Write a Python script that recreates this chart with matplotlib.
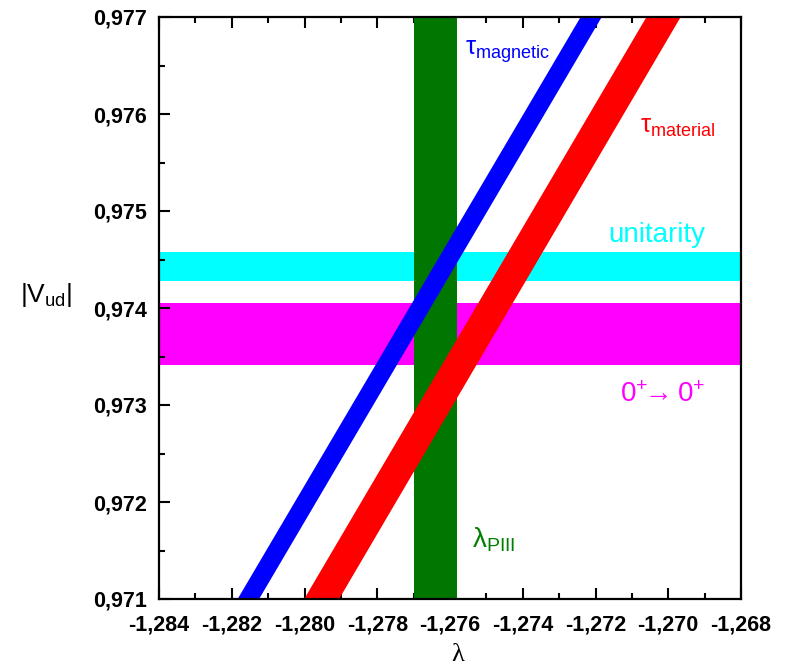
import numpy as np
import matplotlib
matplotlib.use('Agg')
import matplotlib.pyplot as plt
from matplotlib.ticker import MultipleLocator, FuncFormatter

plt.rcParams['font.family'] = ['Liberation Sans', 'DejaVu Sans']
plt.rcParams['mathtext.fontset'] = 'custom'
plt.rcParams['mathtext.rm'] = 'Liberation Sans'
plt.rcParams['mathtext.it'] = 'Liberation Sans:italic'
plt.rcParams['mathtext.bf'] = 'Liberation Sans:bold'

# band edges: lambda at |Vud| = 0.971 and 0.977
vud_ends = [0.971, 0.977]
mag_left = [-1.28186, -1.27243]
mag_right = [-1.28127, -1.27185]
mat_left = [-1.28003, -1.27062]
mat_right = [-1.27907, -1.26968]

# horizontal / vertical bands
unitarity = [0.97428, 0.97458]
superallowed = [0.97341, 0.97405]
lambda_perkeo = [-1.27700, -1.27582]

xlim = (-1.284, -1.268)
ylim = (0.971, 0.977)

fig = plt.figure(figsize=(7.88, 6.69), dpi=100)
ax = fig.add_axes([159/788, 70/669, 582/788, 582/669])

ax.axhspan(unitarity[0], unitarity[1], color='#00ffff', lw=0, zorder=1)
ax.axhspan(superallowed[0], superallowed[1], color='#ff00ff', lw=0, zorder=1)
ax.axvspan(lambda_perkeo[0], lambda_perkeo[1], color='#007700', lw=0, zorder=2)
ax.fill_betweenx(vud_ends, mag_left, mag_right, color='#0000ff', lw=0, zorder=3)
ax.fill_betweenx(vud_ends, mat_left, mat_right, color='#ff0000', lw=0, zorder=3)

ax.set_xlim(*xlim)
ax.set_ylim(*ylim)

ax.xaxis.set_major_locator(MultipleLocator(0.002))
ax.xaxis.set_minor_locator(MultipleLocator(0.001))
ax.yaxis.set_major_locator(MultipleLocator(0.001))
ax.yaxis.set_minor_locator(MultipleLocator(0.0005))
comma = FuncFormatter(lambda v, p: f'{v:.3f}'.replace('.', ','))
ax.xaxis.set_major_formatter(comma)
ax.yaxis.set_major_formatter(comma)

ax.tick_params(which='both', direction='in', top=True, right=False, width=1.5)
ax.tick_params(which='major', length=8, pad=9)
ax.tick_params(axis='x', which='major', pad=11)
ax.tick_params(which='minor', length=4)
for lbl in ax.get_xticklabels() + ax.get_yticklabels():
    lbl.set_fontweight('bold')
    lbl.set_fontsize(15.5)
for s in ax.spines.values():
    s.set_linewidth(1.6)
    s.set_zorder(5)

ax.text(-1.27559, 0.97664, r'τ$_{\mathrm{magnetic}}$', color='#0000ff', fontsize=18.5,
        va='center', ha='left', zorder=6)
ax.text(-1.27078, 0.97587, r'τ$_{\mathrm{material}}$', color='#ff0000', fontsize=18.5,
        va='center', ha='left', zorder=6)
ax.text(-1.27166, 0.97468, 'unitarity', color='#00ffff', fontsize=20,
        va='baseline', ha='left', zorder=6)
ax.text(-1.27133, 0.97303, r'$0^{+}\!\!\rightarrow 0^{+}$', color='#ff00ff', fontsize=20,
        va='baseline', ha='left', zorder=6)
ax.text(-1.2754, 0.97161, r'λ$_{\mathrm{PIII}}$', color='#008000', fontsize=20,
        va='center', ha='left', zorder=6)

fig.text(46/788, 1 - 295/669, r'$|\mathrm{V}_{\mathrm{ud}}|$', fontsize=19, ha='center', va='center')
fig.text(458/788, 1 - 655/669, 'λ', fontsize=19, family='Liberation Serif', ha='center', va='center')

fig.savefig('out.png', dpi=100)
